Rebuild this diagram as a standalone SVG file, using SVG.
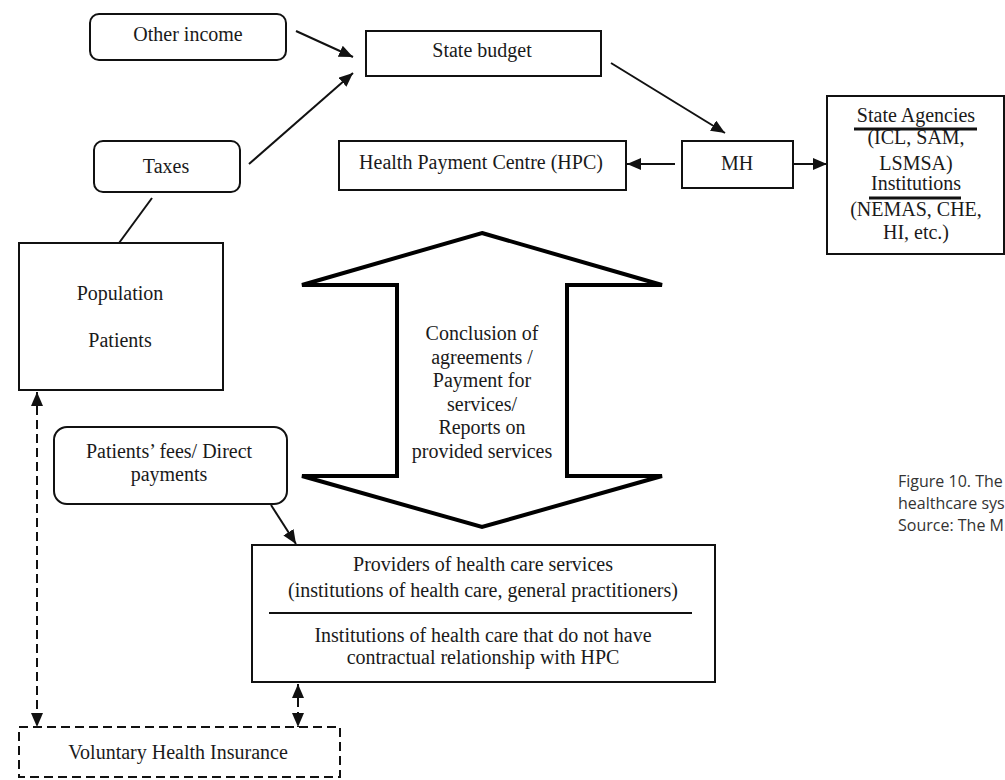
<svg xmlns="http://www.w3.org/2000/svg" width="1005" height="780" viewBox="0 0 1005 780">
<style>
  .box { fill: #fff; stroke: #111; stroke-width: 2; }
  .rbox { fill: #fff; stroke: #111; stroke-width: 2; }
  .dbox { fill: #fff; stroke: #111; stroke-width: 2; stroke-dasharray: 9 5; }
  .t { font-family: "Liberation Serif", "Times New Roman", serif; font-size: 20px; fill: #1a1a1a; text-anchor: middle; }
  .c { stroke: #111; stroke-width: 2; fill: none; }
  .d { stroke: #111; stroke-width: 2; fill: none; stroke-dasharray: 9 5; }
  .ul { stroke: #111; stroke-width: 3; }
  .cap { font-family: "Open Sans", "Noto Sans", sans-serif; font-size: 16px; fill: #333; }
</style>
<defs>
  <marker id="ah" viewBox="0 0 14 12" refX="14" refY="6" markerWidth="14" markerHeight="12" markerUnits="userSpaceOnUse" orient="auto-start-reverse">
    <path d="M0,0 L14,6 L0,12 z" fill="#111" stroke="none"/>
  </marker>
</defs>
<rect width="1005" height="780" fill="#fff"/>

<g id="connectors">
  <line class="c" x1="296" y1="31" x2="353" y2="57" marker-end="url(#ah)"/>
  <line class="c" x1="249" y1="164" x2="353" y2="73" marker-end="url(#ah)"/>
  <line class="c" x1="152" y1="198" x2="119" y2="243"/>
  <line class="c" x1="611" y1="63" x2="725" y2="133" marker-end="url(#ah)"/>
  <line class="c" x1="675" y1="164" x2="627" y2="164" marker-end="url(#ah)"/>
  <line class="c" x1="793" y1="164" x2="827" y2="164" marker-end="url(#ah)"/>
  <line class="c" x1="271" y1="505" x2="296" y2="544" marker-end="url(#ah)"/>
  <line class="d" x1="37" y1="392" x2="37" y2="727" marker-start="url(#ah)" marker-end="url(#ah)"/>
  <line class="d" x1="298" y1="684" x2="298" y2="727" marker-start="url(#ah)" marker-end="url(#ah)"/>
</g>

<g id="other-income">
  <rect class="rbox" x="90" y="14" width="196" height="46" rx="9"/>
  <text class="t" x="188" y="41">Other income</text>
</g>

<g id="state-budget">
  <rect class="box" x="366" y="31" width="235" height="45"/>
  <text class="t" x="482" y="57">State budget</text>
</g>

<g id="taxes">
  <rect class="rbox" x="94" y="141" width="146" height="51" rx="9"/>
  <text class="t" x="166" y="173">Taxes</text>
</g>

<g id="hpc">
  <rect class="box" x="339" y="141" width="287" height="49"/>
  <text class="t" x="481" y="169">Health Payment Centre (HPC)</text>
</g>

<g id="mh">
  <rect class="box" x="682" y="141" width="111" height="47"/>
  <text class="t" x="737" y="170">MH</text>
</g>

<g id="state-agencies">
  <rect class="box" x="827" y="96" width="177" height="158"/>
  <text class="t" x="916" y="122">State Agencies</text>
  <line class="ul" x1="854" y1="129" x2="977" y2="129"/>
  <text class="t" x="916" y="144">(ICL, SAM,</text>
  <text class="t" x="916" y="170">LSMSA)</text>
  <text class="t" x="916" y="190">Institutions</text>
  <line class="ul" x1="869" y1="198" x2="961" y2="198"/>
  <text class="t" x="916" y="216">(NEMAS, CHE,</text>
  <text class="t" x="916" y="239">HI, etc.)</text>
</g>

<g id="population">
  <rect class="box" x="19" y="243" width="204" height="147"/>
  <text class="t" x="120" y="300">Population</text>
  <text class="t" x="120" y="347">Patients</text>
</g>

<g id="agreements">
  <polygon points="482,233 662,285 567,285 567,476 662,476 482,527 302,476 397,476 397,285 302,285" fill="#fff" stroke="#000" stroke-width="4" stroke-linejoin="miter"/>
  <text class="t" x="482" y="340">Conclusion of</text>
  <text class="t" x="482" y="364">agreements /</text>
  <text class="t" x="482" y="387">Payment for</text>
  <text class="t" x="482" y="411">services/</text>
  <text class="t" x="482" y="434">Reports on</text>
  <text class="t" x="482" y="458">provided services</text>
</g>

<g id="patients-fees">
  <rect class="rbox" x="54" y="427" width="233" height="77" rx="13"/>
  <text class="t" x="169" y="458">Patients’ fees/ Direct</text>
  <text class="t" x="169" y="481">payments</text>
</g>

<g id="providers">
  <rect class="box" x="252" y="545" width="463" height="137"/>
  <text class="t" x="483" y="571">Providers of health care services</text>
  <text class="t" x="483" y="597">(institutions of health care, general practitioners)</text>
  <line class="c" x1="269" y1="613" x2="692" y2="613"/>
  <text class="t" x="483" y="642">Institutions of health care that do not have</text>
  <text class="t" x="483" y="664">contractual relationship with HPC</text>
</g>

<g id="vhi">
  <rect class="dbox" x="19" y="727" width="321" height="50"/>
  <text class="t" x="178" y="759">Voluntary Health Insurance</text>
</g>

<g id="caption">
  <text class="cap" x="898" y="487">Figure 10. The</text>
  <text class="cap" x="898" y="509">healthcare sys</text>
  <text class="cap" x="898" y="531">Source: The M</text>
</g>
</svg>
